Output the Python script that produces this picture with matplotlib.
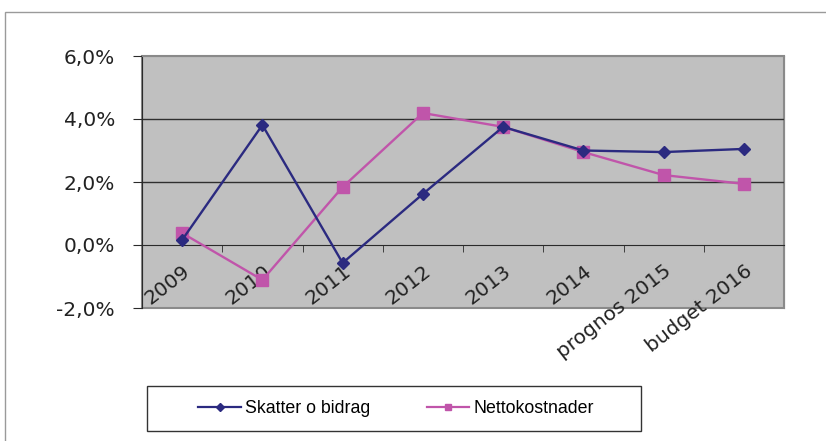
import matplotlib
matplotlib.use('Agg')
import matplotlib.pyplot as plt
from matplotlib.patches import Rectangle
from matplotlib.lines import Line2D

plt.rcParams['font.family'] = ['Liberation Sans', 'DejaVu Sans']

categories = ['2009', '2010', '2011', '2012', '2013', '2014', 'prognos 2015', 'budget 2016']
skatter = [0.16, 3.81, -0.57, 1.62, 3.75, 3.00, 2.95, 3.05]      # Skatter o bidrag, %
netto = [0.38, -1.11, 1.84, 4.19, 3.75, 2.95, 2.22, 1.94]        # Nettokostnader, %
yticks = [-2, 0, 2, 4, 6]
ylabels = ['-2,0%', '0,0%', '2,0%', '4,0%', '6,0%']

navy = '#2B2A80'
pink = '#C055AA'
tickfont = dict(family=['DejaVu Sans'], size=14.5, color='#222222')

fig = plt.figure(figsize=(8.26, 4.41), dpi=100)
W, H = 826, 441

# outer chart frame (top and left visible)
fig.patches.append(Rectangle((5 / W, -0.2), 1.2, 1.2 - 12 / H, transform=fig.transFigure,
                             fill=False, edgecolor='#9a9a9a', lw=1.0))

ax = fig.add_axes([142 / W, (H - 308) / H, (784 - 142) / W, (308 - 56) / H])
ax.set_facecolor('#C0C0C0')
x = list(range(len(categories)))

ax.plot(x, skatter, '-', color=navy, lw=1.7, marker='D', ms=6.5, zorder=4, label='Skatter o bidrag')
ax.plot(x, netto, '-', color=pink, lw=1.7, marker='s', ms=8.5, zorder=3, label='Nettokostnader')

ax.set_xlim(-0.5, len(categories) - 0.5)
ax.set_ylim(-2, 6)

# grid lines
for v in [2, 4]:
    ax.axhline(v, color='#2f2f2f', lw=1.0, zorder=1)

# spines
ax.spines['bottom'].set_position(('data', 0))
ax.spines['bottom'].set_color('#2a2a2a')
ax.spines['left'].set_color('#2a2a2a')
ax.spines['top'].set_color('#8a8a8a')
ax.spines['right'].set_color('#8a8a8a')
ax.add_patch(Rectangle((0, 0), 1, 1, transform=ax.transAxes, fill=False,
                       edgecolor='#8a8a8a', lw=1.5, clip_on=False, zorder=0.5))

ax.set_yticks(yticks)
ax.set_yticklabels(ylabels, **tickfont)
ax.tick_params(axis='y', direction='out', length=6.5, color='#2a2a2a', pad=13)

ax.set_xticks(x)
ax.set_xticklabels(categories, rotation=38, ha='right', va='top',
                   rotation_mode='anchor', **tickfont)
ax.set_xticks([i + 0.5 for i in x], minor=True)
ax.tick_params(axis='x', which='major', length=0, pad=12)
ax.tick_params(axis='x', which='minor', direction='out', length=5, color='#2a2a2a')

# legend box
fig.patches.append(Rectangle((147 / W, (H - 431) / H), (641 - 147) / W, 45 / H,
                             transform=fig.transFigure, fill=False, edgecolor='#333333', lw=1.0))
handles = [Line2D([], [], color=navy, lw=1.6, marker='D', ms=4),
           Line2D([], [], color=pink, lw=1.6, marker='s', ms=5)]
fig.legend(handles, ['Skatter o bidrag', 'Nettokostnader'], loc='center',
           bbox_to_anchor=(396 / W, (H - 408.5) / H), ncol=2, frameon=False,
           fontsize=12.8, handlelength=2.4, handletextpad=0.2, columnspacing=3.2)

fig.savefig('out.png', dpi=100)
